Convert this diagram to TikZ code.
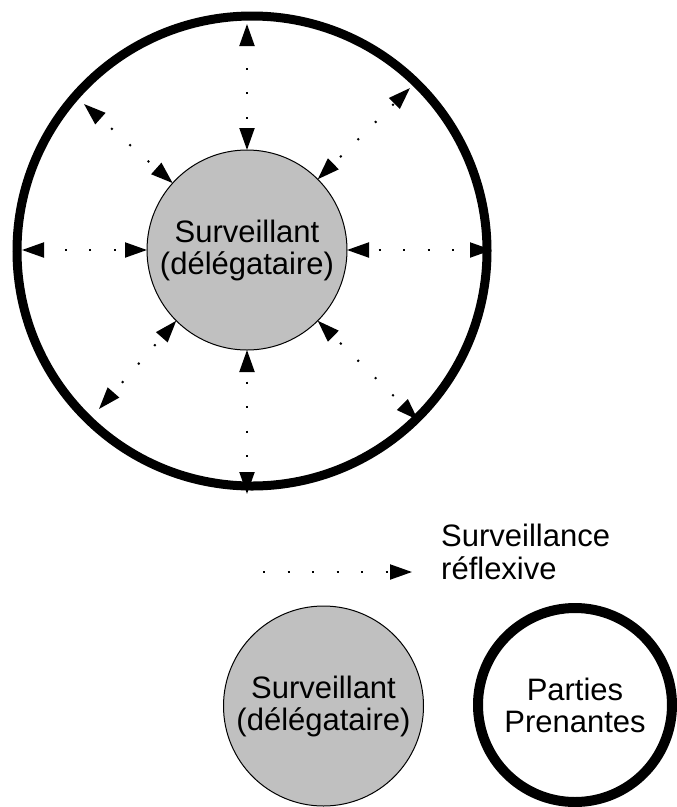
\documentclass[tikz,border=0pt]{standalone}
\usepackage{fontspec}
\setmainfont{Liberation Sans}
\usetikzlibrary{arrows.meta}

\definecolor{silver}{HTML}{C0C0C0}

\tikzset{
  delegate/.style={circle, draw=black, line width=1pt, fill=silver,
    minimum size=200pt, inner sep=0pt, outer sep=0pt, align=center,
    font=\fontsize{31}{32}\selectfont},
  stakering/.style={circle, draw=black, inner sep=0pt, outer sep=0pt,
    align=center, font=\fontsize{31}{32}\selectfont},
  reflexive/.style={line width=2pt, dash pattern=on 2pt off 22.5pt,
    dash phase=14.5pt},
}

\begin{document}
\begin{tikzpicture}[x=1pt, y=-1pt, >={Triangle[length=22pt,width=15pt]}]
    \useasboundingbox (0,0) rectangle (677,807);

    % Outer ring with the monitor inside
    \node[stakering, line width=9pt, minimum size=470pt] (ppbig) at (252,251) {};
    \node[delegate] (surv) at (247,250) {Surveillant\\(délégataire)};

    % Ends of the arrows on the ring
    \coordinate (n) at (247,24);
    \coordinate (ne) at (410,88);
    \coordinate (e) at (492,250);
    \coordinate (se) at (418,420);
    \coordinate (s) at (247,494);
    \coordinate (sw) at (99,409);
    \coordinate (w) at (22,250);
    \coordinate (nw) at (84,104);

    \draw[reflexive, <->] (surv.90) -- (n);
    \draw[reflexive, <->] (surv.45) -- (ne);
    \draw[reflexive, <->] (surv.0) -- (e);
    \draw[reflexive, <->] (surv.315) -- (se);
    \draw[reflexive, <->] (surv.270) -- (s);
    \draw[reflexive, <->] (surv.225) -- (sw);
    \draw[reflexive, <->] (surv.180) -- (w);
    \draw[reflexive, <->] (surv.138) -- (nw);

    % Legend
    \coordinate (legfrom) at (263,572);
    \coordinate (legto) at (412,572);
    \draw[reflexive, dash phase=0pt, ->] (legfrom) -- (legto);
    \node[anchor=west, align=left, inner sep=0pt,
      font=\fontsize{31}{33}\selectfont] (leglabel) at (441,552)
      {Surveillance\\réflexive};

    \node[delegate] (surv2) at (323.5,706) {Surveillant\\(délégataire)};
    \node[stakering, line width=10pt, minimum size=194pt] (pp) at (575,705)
      {Parties\\Prenantes};
\end{tikzpicture}
\end{document}
